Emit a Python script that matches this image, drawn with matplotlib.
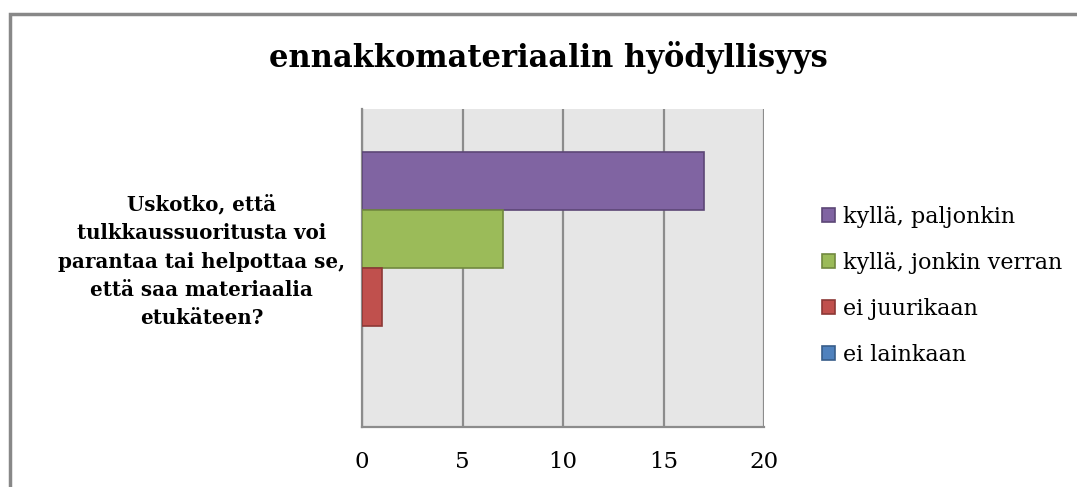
import matplotlib.pyplot as plt
from matplotlib.patches import Rectangle

title = "ennakkomateriaalin hyödyllisyys"
question = "Uskotko, että\ntulkkaussuoritusta voi\nparantaa tai helpottaa se,\nettä saa materiaalia\netukäteen?"
answers = ["kyllä, paljonkin", "kyllä, jonkin verran", "ei juurikaan", "ei lainkaan"]
counts = [17, 7, 1, 0]
colors = ["#8064A2", "#9BBB59", "#C0504D", "#4F81BD"]
edges = ["#5C4776", "#71893F", "#8C3836", "#385D8A"]
xticks = [0, 5, 10, 15, 20]

plt.rcParams["font.family"] = ["DejaVu Serif"]

fig = plt.figure(figsize=(10.77, 4.87), dpi=100)
# outer chart border (only left/top visible in the crop)
fig.patches.append(Rectangle((9.5 / 1077, -0.1), 1.2, 1 - 13.5 / 487 + 0.1,
                             transform=fig.transFigure, fill=False,
                             edgecolor="#888888", linewidth=2.5, zorder=0))

ax = fig.add_axes([362 / 1077, 1 - 427 / 487, 402 / 1077, 318 / 487])
ax.set_facecolor("#E6E6E6")

h = 58 / 318
top = 0.5 + 2 * h
for i, (name, v) in enumerate(zip(answers, counts)):
    y = top - (i + 0.5) * h
    lw = 1.2 if v > 0 else 0
    ax.barh(y, v, height=h, color=colors[i], edgecolor=edges[i],
            linewidth=lw, label=name, zorder=3)

ax.set_xlim(0, 20)
ax.set_ylim(0, 1)
ax.set_xticks(xticks)
ax.set_yticks([0.54])
ax.set_yticklabels([question], fontsize=14.3, fontweight="bold", multialignment="center",
                   linespacing=1.52)
ax.tick_params(axis="y", length=0, pad=12)
ax.tick_params(axis="x", length=0, pad=17, labelsize=16.5)
ax.grid(axis="x", color="#8C8C8C", linewidth=1.6, zorder=1)
ax.set_axisbelow(True)
for s in ["top", "right"]:
    ax.spines[s].set_visible(False)
for s in ["left", "bottom"]:
    ax.spines[s].set_color("#8C8C8C")
    ax.spines[s].set_linewidth(1.6)

fig.text(548 / 1077, 1 - 58 / 487, title, ha="center", va="center",
         fontsize=22, fontweight="bold")

leg = ax.legend(loc="center left", bbox_to_anchor=(822 / 1077, 1 - 286 / 487),
                bbox_transform=fig.transFigure, frameon=False, fontsize=16,
                handlelength=0.6, handleheight=0.6, handletextpad=0.35,
                labelspacing=1.08, borderpad=0, borderaxespad=0)
for hd in leg.legend_handles:
    hd.set_linewidth(1.2)

fig.savefig("out.png", dpi=100)
